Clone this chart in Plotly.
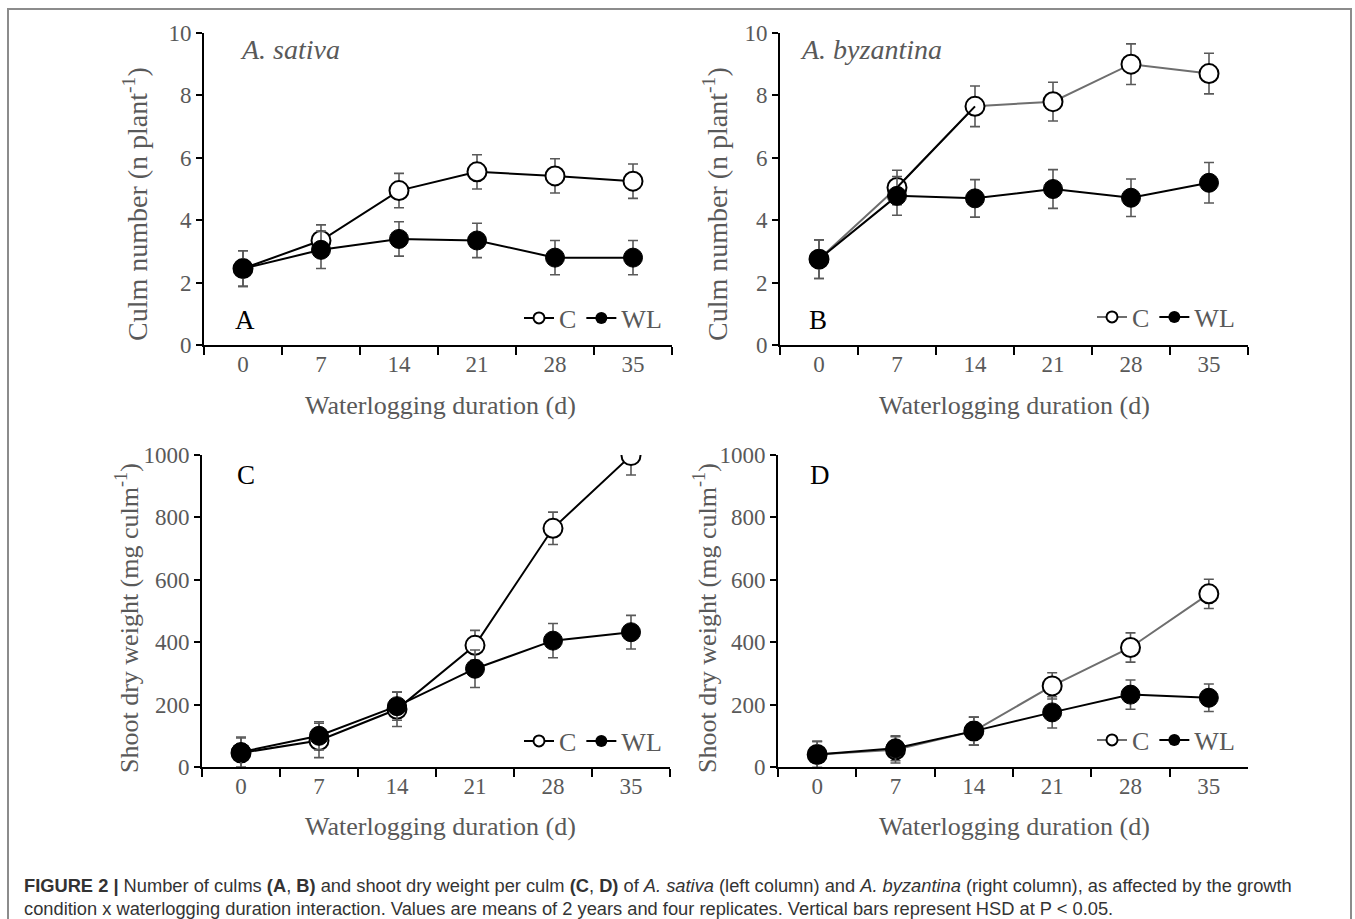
import plotly.graph_objects as go

# ---------------- data ----------------
days = ["0", "7", "14", "21", "28", "35"]

# Panel A: A. sativa, culm number
a_c = [2.45, 3.35, 4.95, 5.55, 5.42, 5.25]
a_wl = [2.45, 3.05, 3.40, 3.35, 2.80, 2.80]
a_c_err = [0.57, 0.50, 0.55, 0.55, 0.55, 0.55]
a_wl_err = [0.57, 0.60, 0.55, 0.55, 0.55, 0.55]

# Panel B: A. byzantina, culm number
b_c = [2.75, 5.05, 7.65, 7.80, 9.00, 8.70]
b_wl = [2.75, 4.78, 4.70, 5.00, 4.72, 5.20]
b_c_err = [0.62, 0.55, 0.65, 0.62, 0.65, 0.65]
b_wl_err = [0.62, 0.62, 0.60, 0.62, 0.60, 0.65]

# Panel C: A. sativa, shoot dry weight
c_c = [45, 85, 185, 390, 765, 998]
c_wl = [48, 100, 195, 315, 405, 432]
c_c_err = [48, 55, 55, 48, 52, 62]
c_wl_err = [48, 45, 45, 60, 55, 54]

# Panel D: A. byzantina, shoot dry weight
d_c = [40, 55, 115, 260, 383, 555]
d_wl = [40, 60, 115, 175, 232, 222]
d_c_err = [42, 42, 45, 42, 47, 47]
d_wl_err = [42, 40, 45, 50, 47, 44]

legend_names = ["C", "WL"]
ytitle_culm = "Culm number (n plant<sup>-1</sup>)"
ytitle_weight = "Shoot dry weight (mg culm<sup>-1</sup>)"
xtitle = "Waterlogging duration (d)"

W, H = 1355, 919
SERIF = "Liberation Serif, Times New Roman, serif"
SANS = "Liberation Sans, Arial, sans-serif"
GREY = "#595959"
LINEGREY = "#6e6e6e"


def fx(p):
    return p / W


def fy(p):
    return 1 - p / H


fig = go.Figure()

panels = [
    dict(key="", c=a_c, wl=a_wl, ce=a_c_err, we=a_wl_err, xd=(204, 672), yd=(33, 345),
         yr=[0, 10], dt=2, ytitle=ytitle_culm, yts=28, cline="black", legend="legend",
         letter="A", letter_xy=(245, 320), species="A. sativa", sp_xy=(238, 50),
         xt_xy=(440, 405), yt_xy=(136, 204), leg_xy=(667, 318)),
    dict(key="2", c=b_c, wl=b_wl, ce=b_c_err, we=b_wl_err, xd=(780, 1248), yd=(33, 345),
         yr=[0, 10], dt=2, ytitle=ytitle_culm, yts=28, cline=LINEGREY, legend="legend2",
         letter="B", letter_xy=(818, 320), species="A. byzantina", sp_xy=(798, 50),
         xt_xy=(1015, 405), yt_xy=(716, 204), leg_xy=(1240, 317)),
    dict(key="3", c=c_c, wl=c_wl, ce=c_c_err, we=c_wl_err, xd=(202, 670), yd=(455, 767),
         yr=[0, 1000], dt=200, ytitle=ytitle_weight, yts=26, cline="black", legend="legend3",
         letter="C", letter_xy=(246, 475), species=None, sp_xy=None,
         xt_xy=(440, 826), yt_xy=(127, 618), leg_xy=(667, 741)),
    dict(key="4", c=d_c, wl=d_wl, ce=d_c_err, we=d_wl_err, xd=(778, 1248), yd=(455, 767),
         yr=[0, 1000], dt=200, ytitle=ytitle_weight, yts=26, cline=LINEGREY, legend="legend4",
         letter="D", letter_xy=(820, 475), species=None, sp_xy=None,
         xt_xy=(1015, 826), yt_xy=(705, 618), leg_xy=(1240, 740)),
]

annotations = []
layout_axes = {}
legends = {}

for p in panels:
    k = p["key"]
    xa, ya = "x" + k, "y" + k
    err_style = dict(type="data", color=GREY, thickness=1.6, width=5, visible=True)

    # C series
    fig.add_trace(go.Scatter(
        x=days, y=p["c"], xaxis=xa, yaxis=ya, mode="lines+markers",
        line=dict(color=p["cline"], width=2),
        marker=dict(size=19, color="white", line=dict(color="black", width=2)),
        error_y=dict(array=p["ce"], **err_style), showlegend=False, hoverinfo="skip"))
    if k == "2":
        # darker segment of the C line between day 7 and 14 in panel B
        fig.add_trace(go.Scatter(
            x=days[1:3], y=p["c"][1:3], xaxis=xa, yaxis=ya, mode="lines",
            line=dict(color="black", width=2), showlegend=False, hoverinfo="skip"))
    # WL series
    fig.add_trace(go.Scatter(
        x=days, y=p["wl"], xaxis=xa, yaxis=ya, mode="lines+markers",
        line=dict(color="black", width=2),
        marker=dict(size=19, color="black", line=dict(color="black", width=1)),
        error_y=dict(array=p["we"], **err_style), showlegend=False, hoverinfo="skip"))
    # legend entries
    fig.add_trace(go.Scatter(
        x=[None], y=[None], xaxis=xa, yaxis=ya, mode="lines+markers", name=legend_names[0],
        line=dict(color=p["cline"], width=2),
        marker=dict(size=11, color="white", line=dict(color="black", width=2)),
        legend=p["legend"], showlegend=True))
    fig.add_trace(go.Scatter(
        x=[None], y=[None], xaxis=xa, yaxis=ya, mode="lines+markers", name=legend_names[1],
        line=dict(color="black", width=2),
        marker=dict(size=12, color="black"),
        legend=p["legend"], showlegend=True))

    layout_axes["xaxis" + k] = dict(
        domain=[fx(p["xd"][0]), fx(p["xd"][1])], anchor=ya, type="category",
        categoryorder="array", categoryarray=days, range=[-0.5, 5.5],
        tickson="boundaries", ticks="outside", ticklen=8, tickwidth=1.5, tickcolor="black",
        ticklabelstandoff=-3,
        showline=True, linecolor="black", linewidth=2, showgrid=False, zeroline=False,
        tickfont=dict(family=SERIF, size=23, color=GREY), fixedrange=True)
    layout_axes["yaxis" + k] = dict(
        domain=[fy(p["yd"][1]), fy(p["yd"][0])], anchor=xa, range=p["yr"], dtick=p["dt"],
        ticks="outside", ticklen=6, tickwidth=1.5, tickcolor="black",
        showline=True, linecolor="black", linewidth=2, showgrid=False, zeroline=False,
        tickfont=dict(family=SERIF, size=23, color=GREY), fixedrange=True)

    legends[p["legend"]] = dict(
        orientation="h", x=fx(p["leg_xy"][0]), y=fy(p["leg_xy"][1]),
        xanchor="right", yanchor="middle", bgcolor="rgba(0,0,0,0)",
        font=dict(family=SERIF, size=26, color=GREY), itemwidth=30,
        tracegroupgap=0, itemclick=False, itemdoubleclick=False)

    # axis titles
    annotations.append(dict(
        text=xtitle, x=fx(p["xt_xy"][0]), y=fy(p["xt_xy"][1]), xref="paper", yref="paper",
        showarrow=False, xanchor="center", yanchor="middle",
        font=dict(family=SERIF, size=26, color=GREY)))
    annotations.append(dict(
        text=p["ytitle"], x=fx(p["yt_xy"][0]), y=fy(p["yt_xy"][1]), xref="paper",
        yref="paper", showarrow=False, xanchor="center", yanchor="middle", textangle=-90,
        font=dict(family=SERIF, size=p["yts"], color=GREY)))
    # panel letters
    annotations.append(dict(
        text=p["letter"], x=fx(p["letter_xy"][0]), y=fy(p["letter_xy"][1]), xref="paper",
        yref="paper", showarrow=False, xanchor="center", yanchor="middle",
        font=dict(family=SERIF, size=27, color="black")))
    if p["species"]:
        annotations.append(dict(
            text="<i>" + p["species"] + "</i>", x=fx(p["sp_xy"][0]), y=fy(p["sp_xy"][1]),
            xref="paper", yref="paper", showarrow=False, xanchor="left", yanchor="middle",
            font=dict(family=SERIF, size=28, color=GREY)))

caption1 = ("<b>FIGURE 2 |</b> Number of culms <b>(A</b>, <b>B)</b> and shoot dry weight per culm "
            "<b>(C</b>, <b>D)</b> of <i>A. sativa</i> (left column) and <i>A. byzantina</i> "
            "(right column), as affected by the growth")
caption2 = ("condition x waterlogging duration interaction. Values are means of 2 years and four "
            "replicates. Vertical bars represent HSD at P &lt; 0.05.")
for txt, yy in [(caption1, 885), (caption2, 908)]:
    annotations.append(dict(
        text=txt, x=fx(22), y=fy(yy), xref="paper", yref="paper", showarrow=False,
        xanchor="left", yanchor="middle", align="left",
        font=dict(family=SANS, size=18.3, color="#333333")))

shapes = [dict(type="path", xref="paper", yref="paper",
               path=f"M {fx(8)} {fy(930)} L {fx(8)} {fy(9)} L {fx(1351)} {fy(9)} L {fx(1351)} {fy(930)}",
               line=dict(color="#8c8c8c", width=2))]

fig.update_layout(
    width=W, height=H, margin=dict(l=0, r=0, t=0, b=0, autoexpand=False),
    paper_bgcolor="white", plot_bgcolor="white",
    annotations=annotations, shapes=shapes, **layout_axes, **legends)

fig.write_html("out.html", config={"displayModeBar": False},
               post_script="document.body.style.margin='0';document.body.style.overflow='hidden';")
